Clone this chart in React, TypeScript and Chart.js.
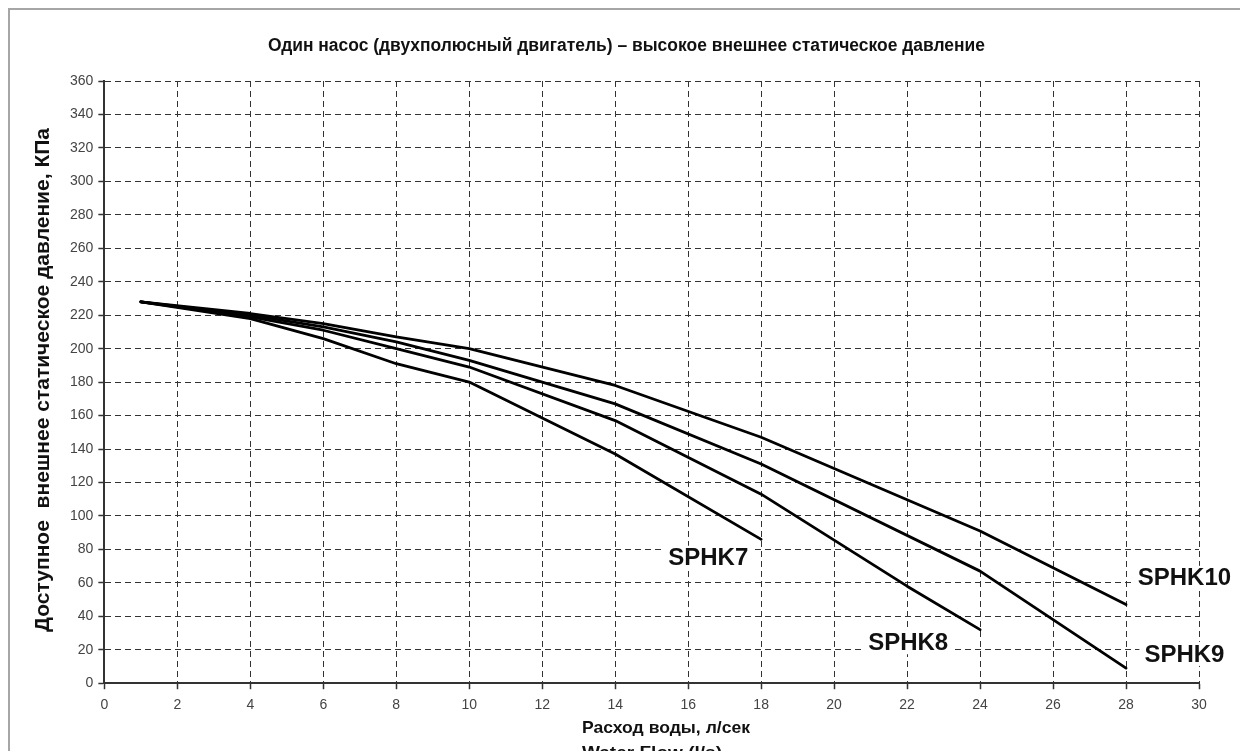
import React, { useEffect, useRef } from "react";
import { Chart, registerables } from "chart.js";

Chart.register(...registerables);

// ---- data ----
const flowSPHK7 = [1, 4, 6, 8, 10, 14, 18];
const pressureSPHK7 = [228, 218, 206, 191, 180, 137, 86];
const flowSPHK8 = [1, 4, 6, 8, 10, 14, 18, 22, 24];
const pressureSPHK8 = [228, 219, 211, 200, 189, 157, 113, 58, 32];
const flowSPHK9 = [1, 4, 6, 8, 10, 14, 18, 24, 28];
const pressureSPHK9 = [228, 220, 213, 204, 193, 167, 131, 67, 9];
const flowSPHK10 = [1, 4, 6, 8, 10, 14, 18, 24, 28];
const pressureSPHK10 = [228, 221, 215, 207, 200, 178, 147, 91, 47];

const seriesNames = ["SPHK7", "SPHK8", "SPHK9", "SPHK10"];
const labelFlow = [16.55, 22.03, 29.6, 29.6];
const labelPressure = [75, 24.5, 17.5, 63];

const chartTitle = "Один насос (двухполюсный двигатель) – высокое внешнее статическое давление";
const yTitle = "Доступное  внешнее статическое давление, КПа";
const xTitle = "Расход воды, л/сек";
const hiddenTitle = "Water Flow (l/s)";

const xMin = 0, xMax = 30, xStep = 2;
const yMin = 0, yMax = 360, yStep = 20;

const FONT = "'Liberation Sans', Arial, sans-serif";

function toPoints(xs: number[], ys: number[]) {
  return xs.map((x, i) => ({ x, y: ys[i] }));
}

function fitText(ctx: CanvasRenderingContext2D, text: string, x: number, y: number, width: number, font: string, rot = 0) {
  ctx.save();
  ctx.font = font;
  ctx.translate(x, y);
  if (rot) ctx.rotate(rot);
  const w = ctx.measureText(text).width;
  ctx.scale(width / w, 1);
  ctx.textAlign = "center";
  ctx.textBaseline = "alphabetic";
  ctx.fillStyle = "#111";
  ctx.fillText(text, 0, 0);
  ctx.restore();
}

const textPlugin = {
  id: "textPlugin",
  afterDatasetsDraw(chart: any) {
    const ctx: CanvasRenderingContext2D = chart.ctx;
    const xs = chart.scales.x;
    const ys = chart.scales.y;
    ctx.save();
    ctx.font = `bold 24px ${FONT}`;
    ctx.textAlign = "center";
    ctx.textBaseline = "middle";
    seriesNames.forEach((n, i) => {
      const px = xs.getPixelForValue(labelFlow[i]);
      const py = ys.getPixelForValue(labelPressure[i]);
      const w = ctx.measureText(n).width;
      ctx.fillStyle = "#fff";
      ctx.fillRect(px - w / 2 - 5, py - 12, w + 10, 24);
      ctx.fillStyle = "#111";
      ctx.fillText(n, px, py + 1);
    });
    ctx.restore();

    fitText(ctx, chartTitle, 616.5, 41, 717, `bold 18px ${FONT}`);
    fitText(ctx, yTitle, 39, 370, 504, `bold 20px ${FONT}`, -Math.PI / 2);
    fitText(ctx, xTitle, 656, 723, 168, `bold 17px ${FONT}`);
    fitText(ctx, hiddenTitle, 642, 748, 140, `bold 17px ${FONT}`);
  },
};

export default function App() {
  const ref = useRef<HTMLCanvasElement>(null);
  useEffect(() => {
    document.documentElement.style.overflow = "hidden";
    const canvas = ref.current;
    if (!canvas) return;
    const lineDs = (label: string, xs: number[], ys: number[]) => ({
      label,
      data: toPoints(xs, ys),
      borderColor: "#000",
      backgroundColor: "#000",
      borderWidth: 2.8,
      pointRadius: 0,
      tension: 0,
      fill: false,
      borderCapStyle: "round" as const,
      borderJoinStyle: "round" as const,
    });
    const axisCommon = (min: number, max: number, step: number, pad: number) => ({
      type: "linear" as const,
      min,
      max,
      ticks: {
        stepSize: step,
        color: "#444",
        font: { family: FONT, size: 14 },
        padding: pad,
        maxRotation: 0,
        autoSkip: false,
      },
      grid: {
        color: "#333",
        lineWidth: 1,
        tickLength: 6,
        tickColor: "#333",
        tickWidth: 1.5,
        tickBorderDash: [],
      },
      border: { display: true, color: "#333", width: 2, dash: [6, 4] },
    });
    const chart = new Chart(canvas, {
      type: "line",
      data: {
        datasets: [
          lineDs("SPHK7", flowSPHK7, pressureSPHK7),
          lineDs("SPHK8", flowSPHK8, pressureSPHK8),
          lineDs("SPHK9", flowSPHK9, pressureSPHK9),
          lineDs("SPHK10", flowSPHK10, pressureSPHK10),
        ],
      },
      options: {
        animation: false,
        responsive: false,
        maintainAspectRatio: false,
        devicePixelRatio: 1,
        layout: { padding: { left: 55, right: 41, top: 71, bottom: 29 } },
        plugins: {
          legend: { display: false },
          title: { display: false },
          tooltip: { enabled: false },
        },
        scales: {
          x: axisCommon(xMin, xMax, xStep, 8),
          y: axisCommon(yMin, yMax, yStep, 5),
        },
      },
      plugins: [textPlugin],
    });
    return () => chart.destroy();
  }, []);
  return (
    <div
      style={{
        borderTop: "2px solid #a6a6a6",
        borderLeft: "2px solid #a6a6a6",
        width: 1230,
        height: 741,
        overflow: "hidden",
        background: "#fff",
      }}
    >
      <canvas ref={ref} width={1230} height={741} style={{ display: "block" }} />
    </div>
  );
}
